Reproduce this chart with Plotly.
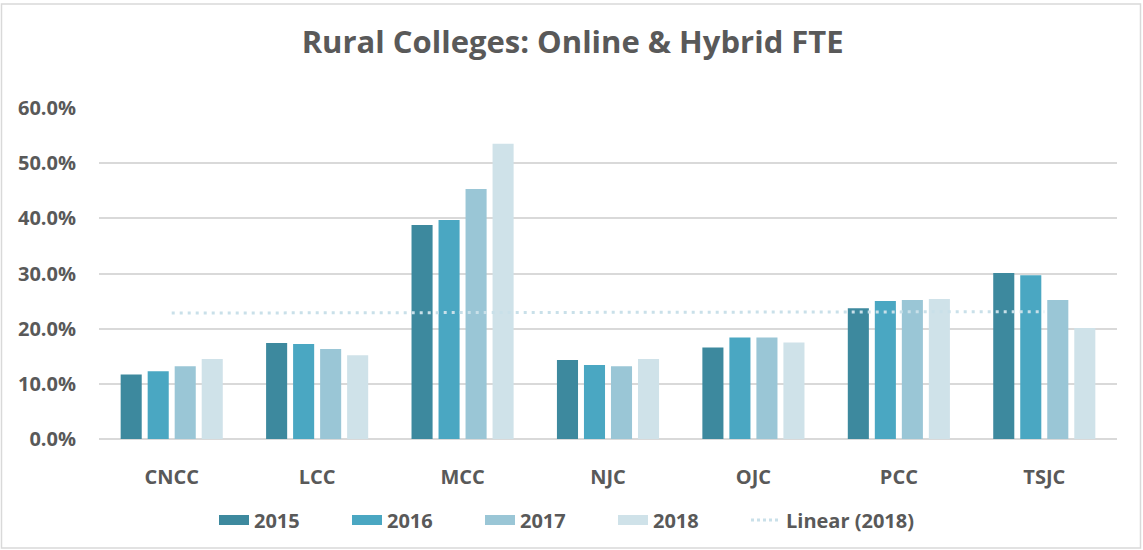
import numpy as np
import plotly.graph_objects as go

colleges = ["CNCC", "LCC", "MCC", "NJC", "OJC", "PCC", "TSJC"]
fte_2015 = [11.7, 17.4, 38.8, 14.3, 16.6, 23.7, 30.1]
fte_2016 = [12.3, 17.2, 39.7, 13.4, 18.4, 25.0, 29.7]
fte_2017 = [13.2, 16.3, 45.3, 13.2, 18.4, 25.2, 25.2]
fte_2018 = [14.5, 15.2, 53.5, 14.5, 17.5, 25.4, 20.1]
y_ticks = [0, 10, 20, 30, 40, 50, 60]

years = ["2015", "2016", "2017", "2018"]
series = [fte_2015, fte_2016, fte_2017, fte_2018]
colors = ["#3D899E", "#4AA7C2", "#9AC6D6", "#CFE2E9"]
trend_color = "#C9E0E9"

FONT = "Open Sans"
TXT = "#595959"

fig = go.Figure()
for name, vals, col in zip(years, series, colors):
    fig.add_trace(go.Bar(
        x=colleges, y=[v / 100 for v in vals], name=name, showlegend=False,
        legendgroup=name,
        marker=dict(color=col, line=dict(width=0)),
    ))

# Linear trendline of 2018 series
xi = np.arange(len(colleges))
slope, intercept = np.polyfit(xi, np.array(fte_2018) / 100, 1)
trend = slope * xi + intercept
fig.add_trace(go.Scatter(
    x=colleges, y=trend, name="Linear (2018)", mode="lines", showlegend=False,
    legendgroup="trend",
    line=dict(color=trend_color, width=3, dash="3px,5px"),
))

# Legend-only entries (wide rectangular swatches like the original)
for name, col in zip(years, colors):
    fig.add_trace(go.Scatter(
        x=[None], y=[None], mode="lines", name=name, legendgroup=name,
        line=dict(color=col, width=16), legend="legend",
    ))
fig.add_trace(go.Scatter(
    x=[None], y=[None], mode="lines", name="Linear (2018)", legendgroup="trend",
    line=dict(color=trend_color, width=3, dash="3px,3px"), legend="legend2",
))

W, H = 1143, 550
ml, mr, mt, mb = 99, 26, 108, 111
pw, ph = W - ml - mr, H - mt - mb

def px2paper_x(px):
    return (px - ml) / pw

def px2paper_y(py):
    return (H - mb - py) / ph

fig.add_shape(type="rect", xref="paper", yref="paper",
              x0=px2paper_x(1.5), x1=px2paper_x(1140.5),
              y0=px2paper_y(548), y1=px2paper_y(4),
              line=dict(color="#D9D9D9", width=1.5), fillcolor="rgba(0,0,0,0)",
              layer="below")

bold = dict(family=FONT, size=20, color=TXT, weight="bold")

fig.update_layout(
    width=W, height=H,
    margin=dict(l=ml, r=mr, t=mt, b=mb),
    paper_bgcolor="white", plot_bgcolor="white",
    barmode="group", bargap=0.257, bargroupgap=0.22,
    title=dict(text="Rural Colleges: Online & Hybrid FTE",
               xref="container", x=0.501, xanchor="center",
               yref="container", y=1 - 42 / H, yanchor="middle",
               font=dict(family=FONT, size=31, color=TXT, weight="bold")),
    font=dict(family=FONT, color=TXT),
    xaxis=dict(showgrid=False, showline=False, ticks="", automargin=False,
               ticklabelstandoff=24, tickfont=bold),
    yaxis=dict(range=[0, 0.6], tickvals=[t / 100 for t in y_ticks],
               tickformat=".1%", showgrid=True, gridcolor="#D9D9D9", gridwidth=1.5,
               zeroline=True, zerolinecolor="#D9D9D9", zerolinewidth=1.5,
               showline=False, ticks="", ticklabelstandoff=22, automargin=False,
               tickfont=bold),
    legend=dict(orientation="h", xref="container", x=214 / W, xanchor="left",
                yref="container", y=1 - 520 / H, yanchor="middle",
                font=bold, itemwidth=30, entrywidth=88, entrywidthmode="pixels",
                traceorder="normal"),
    legend2=dict(orientation="h", xref="container", x=746 / W, xanchor="left",
                 yref="container", y=1 - 520 / H, yanchor="middle",
                 font=bold, itemwidth=30),
    showlegend=True,
)

fig.write_html("out.html", config={"displayModeBar": False})
with open("out.html", "r", encoding="utf-8") as f:
    html = f.read()
html = html.replace("<body>", '<body style="margin:0;padding:0;overflow:hidden">', 1)
with open("out.html", "w", encoding="utf-8") as f:
    f.write(html)
